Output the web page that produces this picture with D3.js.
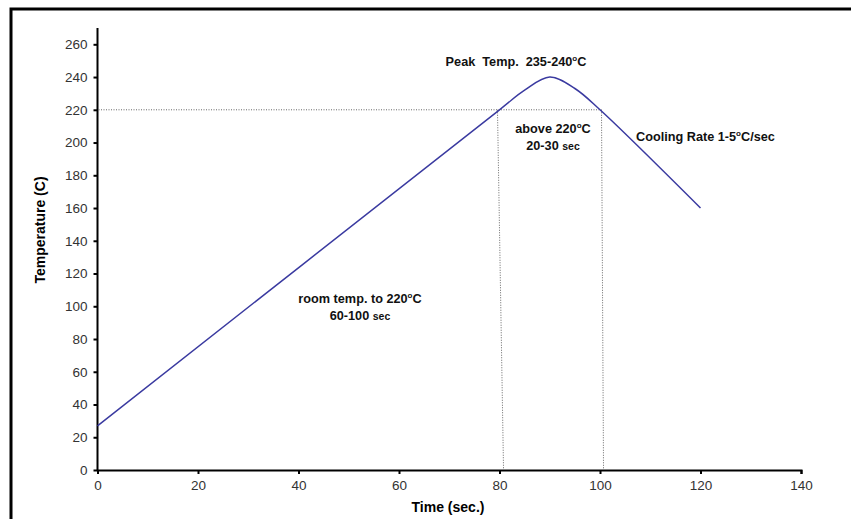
<!DOCTYPE html>
<html>
<head>
<meta charset="utf-8">
<script src="https://cdn.jsdelivr.net/npm/d3@7"></script>
<style>
  body { margin: 0; background: #fff; }
  text { font-family: "Liberation Sans", Arial, sans-serif; white-space: pre; }
</style>
</head>
<body>
<div id="chart"></div>
<script>
let height = 519,
    width = 851,
    margin = ({ top: 44, right: 51, bottom: 49, left: 97 });

// reflow profile
const timeSec = [0, 80, 85, 90, 95, 100, 120];
const tempC   = [27, 220, 232, 240, 233, 220, 160];
const xTicks = [0, 20, 40, 60, 80, 100, 120, 140];
const yTicks = [0, 20, 40, 60, 80, 100, 120, 140, 160, 180, 200, 220, 240, 260];
// dotted guide lines: [x at 220, x at axis]
const guideLines = [[79.6, 80.8], [100.3, 100.7]];

const svg = d3.select("#chart")
  .append("svg")
  .attr("width", width)
  .attr("height", height);

// outer frame (only top and left edges are inside the picture)
svg.append("rect")
  .attr("x", 11).attr("y", 9)
  .attr("width", width + 20).attr("height", height + 20)
  .attr("fill", "none")
  .attr("stroke", "#000")
  .attr("stroke-width", 3);

let x = d3.scaleLinear()
  .domain([0, 140])
  .range([97.5, 801]);

let y = d3.scaleLinear()
  .domain([0, 260])
  .range([470, 44.3]);

// y axis line extends a bit above 260
svg.append("line")
  .attr("x1", x(0)).attr("x2", x(0))
  .attr("y1", y(0)).attr("y2", y(270))
  .attr("stroke", "#000").attr("stroke-width", 2);

const xAxis = svg.append("g")
  .attr("transform", `translate(0,${y(0)})`)
  .call(d3.axisBottom(x).tickValues(xTicks).tickSize(4).tickPadding(6).tickSizeOuter(4));

const yAxis = svg.append("g")
  .attr("transform", `translate(${x(0)},0)`)
  .call(d3.axisLeft(y).tickValues(yTicks).tickSize(4).tickPadding(6).tickSizeOuter(0));
yAxis.select(".domain").remove();

[xAxis, yAxis].forEach(g => {
  g.selectAll("path, line").attr("stroke", "#000").attr("stroke-width", 2);
  g.selectAll("text")
    .attr("font-size", 13.5)
    .attr("fill", "#333")
    .style("font-family", "Liberation Sans, Arial, sans-serif");
});

// dotted guides
const dotted = svg.append("g")
  .attr("stroke", "#666")
  .attr("stroke-width", 1)
  .attr("stroke-dasharray", "1,1.5")
  .attr("fill", "none");

dotted.append("line")
  .attr("x1", x(0) + 1).attr("x2", x(100.3))
  .attr("y1", y(220)).attr("y2", y(220));

dotted.selectAll("line.v")
  .data(guideLines)
  .join("line")
  .attr("class", "v")
  .attr("x1", d => x(d[0])).attr("y1", y(220))
  .attr("x2", d => x(d[1])).attr("y2", y(0) - 1);

// the profile curve
const pts = timeSec.map((t, i) => [t, tempC[i]]);
svg.append("path")
  .datum(pts)
  .attr("fill", "none")
  .attr("stroke", "#3a3aa0")
  .attr("stroke-width", 1.5)
  .attr("d", d3.line().x(d => x(d[0])).y(d => y(d[1])).curve(d3.curveCatmullRom.alpha(0.5)));

// annotations
function label(xp, yp, parts, anchor) {
  const t = svg.append("text")
    .attr("x", xp).attr("y", yp)
    .attr("text-anchor", anchor || "middle")
    .attr("font-weight", "bold")
    .attr("font-size", 12.7)
    .attr("fill", "#111");
  parts.forEach(p => {
    const s = t.append("tspan").text(p.t);
    if (p.sup) s.attr("font-size", 8).attr("dy", -5);
    if (p.down) s.attr("dy", 5);
    if (p.small) s.attr("font-size", 10.5);
  });
  return t;
}

label(516, 66, [{ t: "Peak  Temp.  235-240" }, { t: "o", sup: true }, { t: "C", down: true }]);
label(553, 133, [{ t: "above 220" }, { t: "o", sup: true }, { t: "C", down: true }]);
label(553, 150, [{ t: "20-30 " }, { t: "sec", small: true }]);
label(636, 141, [{ t: "Cooling Rate 1-5" }, { t: "o", sup: true }, { t: "C/sec", down: true }], "start");
label(360, 303, [{ t: "room temp. to 220" }, { t: "o", sup: true }, { t: "C", down: true }]);
label(360, 320, [{ t: "60-100 " }, { t: "sec", small: true }]);

// axis titles
svg.append("text")
  .attr("x", 448).attr("y", 512)
  .attr("text-anchor", "middle")
  .attr("font-weight", "bold").attr("font-size", 14)
  .text("Time (sec.)");

svg.append("text")
  .attr("transform", `translate(45,230) rotate(-90)`)
  .attr("text-anchor", "middle")
  .attr("font-weight", "bold").attr("font-size", 14)
  .text("Temperature (C)");
</script>
</body>
</html>
